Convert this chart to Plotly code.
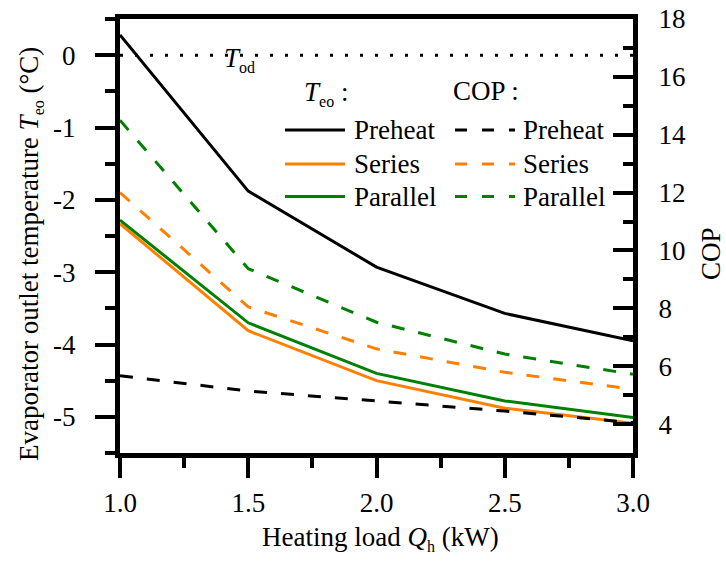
import plotly.graph_objects as go

# Heating load (kW)
load_kw = [1.0, 1.5, 2.0, 2.5, 3.0]

# Evaporator outlet temperature T_eo (°C)
teo_preheat = [0.28, -1.88, -2.93, -3.57, -3.95]
teo_series = [-2.33, -3.81, -4.50, -4.88, -5.09]
teo_parallel = [-2.28, -3.70, -4.40, -4.78, -5.01]

# Coefficient of performance
cop_preheat = [5.67, 5.14, 4.80, 4.45, 4.05]
cop_series = [12.00, 8.05, 6.60, 5.79, 5.20]
cop_parallel = [14.50, 9.37, 7.52, 6.42, 5.72]

# Outdoor temperature (°C)
t_od = 0.0

# Axis ticks
x_ticks = [1.0, 1.5, 2.0, 2.5, 3.0]
x_labels = ["1.0", "1.5", "2.0", "2.5", "3.0"]
t_ticks = [0, -1, -2, -3, -4, -5]
t_labels = ["0", "-1", "-2", "-3", "-4", "-5"]
cop_ticks = [4, 6, 8, 10, 12, 14, 16, 18]

BLACK = "#000000"
ORANGE = "#FF8000"
GREEN = "#008000"
FONT = "'Liberation Serif', 'Times New Roman', Times, serif"
FS = 27
LW = 3
DASH = "13px,14px"

W, H = 726, 565
ML, MR, MT, MB = 120, 93, 19, 112
PW, PH = W - ML - MR, H - MT - MB


def px(x):
    return (x - ML) / PW


def py(y):
    return (H - MB - y) / PH


fig = go.Figure()

series = [
    ("Preheat", BLACK, teo_preheat, cop_preheat),
    ("Series", ORANGE, teo_series, cop_series),
    ("Parallel", GREEN, teo_parallel, cop_parallel),
]

# outdoor temperature reference line
fig.add_trace(go.Scatter(x=[load_kw[0], load_kw[-1]], y=[t_od, t_od], mode="lines",
                         line=dict(color=BLACK, width=3, dash="3px,12px"),
                         showlegend=False, yaxis="y"))

for name, color, teo, cop in series:
    fig.add_trace(go.Scatter(x=load_kw, y=cop, mode="lines", name=name,
                             line=dict(color=color, width=LW, dash=DASH),
                             showlegend=False, yaxis="y2"))
for name, color, teo, cop in series:
    fig.add_trace(go.Scatter(x=load_kw, y=teo, mode="lines", name=name,
                             line=dict(color=color, width=LW),
                             showlegend=False, yaxis="y"))

tickfont = dict(family=FONT, size=FS, color=BLACK)

fig.update_layout(
    width=W, height=H,
    margin=dict(l=ML, r=MR, t=MT, b=MB, pad=0, autoexpand=False),
    paper_bgcolor="white", plot_bgcolor="white",
    font=dict(family=FONT, size=FS, color=BLACK),
    showlegend=False,
    xaxis=dict(range=[1, 3], tickvals=x_ticks, ticktext=x_labels, automargin=False,
               ticks="outside", ticklen=20, tickwidth=4, tickcolor=BLACK,
               minor=dict(dtick=0.25, ticks="outside", ticklen=10, tickwidth=4,
                          tickcolor=BLACK, showgrid=False),
               showline=True, linewidth=5, linecolor=BLACK, mirror=True,
               showgrid=False, zeroline=False, tickfont=tickfont,
               ticklabelstandoff=2),
    yaxis=dict(range=[-5.5, 0.5], tickvals=t_ticks, ticktext=t_labels, automargin=False,
               ticks="outside", ticklen=20, tickwidth=4, tickcolor=BLACK,
               minor=dict(dtick=0.5, tick0=0.5, ticks="outside", ticklen=10, tickwidth=4,
                          tickcolor=BLACK, showgrid=False),
               showline=True, linewidth=5, linecolor=BLACK,
               showgrid=False, zeroline=False, tickfont=tickfont,
               ticklabelstandoff=14),
    yaxis2=dict(range=[3, 18], overlaying="y", side="right", tickvals=cop_ticks,
                automargin=False,
                ticks="inside", ticklen=20, tickwidth=4, tickcolor=BLACK,
                minor=dict(dtick=1, tick0=3, ticks="inside", ticklen=10, tickwidth=4,
                           tickcolor=BLACK, showgrid=False),
                showline=True, linewidth=5, linecolor=BLACK,
                showgrid=False, zeroline=False, tickfont=tickfont,
                ticklabelstandoff=15),
)

ann = []


def text(x, y, s, xanchor="left", angle=0, size=FS):
    ann.append(dict(x=px(x), y=py(y), xref="paper", yref="paper", text=s,
                    showarrow=False, xanchor=xanchor, yanchor="middle",
                    textangle=angle, font=dict(family=FONT, size=size, color=BLACK)))


SUB = '<sub><span style="font-size:16px">{}</span></sub>'

# axis titles
text(31, 254, "Evaporator outlet temperature <i>T</i>" + SUB.format("eo") + " (°C)",
     xanchor="center", angle=-90)
text(711, 254, "COP", xanchor="center", angle=-90)
text(380, 538, "Heating load <i>Q</i>" + SUB.format("h") + " (kW)", xanchor="center")

# outdoor temperature label
text(222, 60, "<i>T</i>" + SUB.format("od"))

# legend headers
text(302, 93, "<i>T</i>" + SUB.format("eo") + " :")
text(451, 91, "COP :")

# legend rows: solid samples for T_eo, dashed samples for COP
shapes = []
rows_y = [130, 164, 196.5]
for (name, color, _, _), ry in zip(series, rows_y):
    shapes.append(dict(type="line", xref="paper", yref="paper",
                       x0=px(285), x1=px(345), y0=py(ry), y1=py(ry),
                       line=dict(color=color, width=LW)))
    shapes.append(dict(type="line", xref="paper", yref="paper",
                       x0=px(455), x1=px(515), y0=py(ry), y1=py(ry),
                       line=dict(color=color, width=LW, dash="12px,15px")))
    text(352, ry, name)
    text(521, ry, name)

fig.update_layout(annotations=ann, shapes=shapes)

fig.write_html("out.html")
